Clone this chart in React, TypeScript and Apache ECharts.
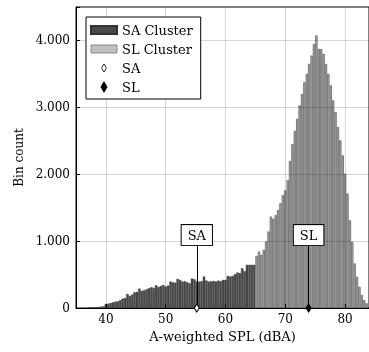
import React, { useEffect, useRef } from "react";
import * as echarts from "echarts";

// Histogram layout
const binStart = 37.0;
const binWidth = 0.4;

// SA cluster bin counts (bins from 37.0 dBA, width 0.4)
const saCounts = [
  5, 8, 10, 12, 15, 20, 25,
  60, 65, 75, 85, 95, 100, 115, 140, 150, 210,
  180, 200, 235, 240, 290, 255, 265, 280, 295, 310,
  300, 340, 315, 330, 345, 320, 335, 395, 385, 380,
  435, 420, 395, 400, 385, 370, 440, 430, 400, 395,
  400, 470, 410, 395, 400, 405, 395, 410, 400, 420,
  420, 480, 470, 480, 505, 530, 520, 595, 550, 645,
  645, 645, 645,
];

// SL cluster bin counts (bins continue right after the SA cluster)
const slCounts = [
  780, 845, 795, 870, 995, 1145, 1368, 1335, 1390, 1467, 1567, 1690, 1760, 1910,
  2200, 2450, 2650, 2830, 3030, 3200, 3377, 3500, 3650, 3775, 3950, 4075,
  3875, 3870, 3800, 3650, 3500, 3330, 3105, 2930, 2705, 2507, 2283, 2010,
  1712, 1313, 990, 667, 467, 318, 194, 119, 70,
];

// Representative points
const saPoint = 55.2;
const slPoint = 73.9;

const xTicks = [40, 50, 60, 70, 80];
const yTicks = [1000, 2000, 3000, 4000];

const FONT = "DejaVu Serif";
const diamondPath = "path://M3 0L6 5L3 10L0 5Z";

export default function App() {
  const ref = useRef<HTMLDivElement>(null);

  useEffect(() => {
    if (!ref.current) return;
    const chart = echarts.init(ref.current, undefined, { renderer: "svg" });

    const saData = saCounts.map((c, i) => [
      +(binStart + binWidth * (i + 0.5)).toFixed(2),
      c,
    ]);
    const slStart = binStart + binWidth * saCounts.length;
    const slData = slCounts.map((c, i) => [
      +(slStart + binWidth * (i + 0.5)).toFixed(2),
      c,
    ]);

    const annLabel = (txt: string) => ({
      show: true,
      position: "end",
      distance: 0,
      formatter: txt,
      backgroundColor: "#fff",
      borderColor: "#000",
      borderWidth: 1,
      padding: [4, 6, 3, 6],
      color: "#000",
      fontFamily: FONT,
      fontSize: 13,
    });

    const option: any = {
      animation: false,
      textStyle: { fontFamily: FONT },
      grid: {
        show: true,
        borderColor: "#000",
        borderWidth: 1,
        left: 76,
        top: 7,
        width: 294,
        height: 301,
      },
      legend: {
        orient: "vertical",
        left: 86,
        top: 17,
        z: 10,
        padding: [6, 8, 5, 4],
        borderColor: "#000",
        borderWidth: 1,
        borderRadius: 0,
        backgroundColor: "#fff",
        itemWidth: 26,
        itemHeight: 8,
        itemGap: 5,
        selectedMode: false,
        textStyle: { fontFamily: FONT, fontSize: 13, color: "#000", lineHeight: 14 },
        data: [
          { name: "SA Cluster", icon: "rect" },
          { name: "SL Cluster", icon: "rect", itemStyle: { color: "#c0c0c0", borderColor: "#8a8a8a", borderWidth: 1 } },
          { name: "SA", icon: diamondPath, itemStyle: { borderWidth: 0.8 } },
          { name: "SL", icon: diamondPath },
        ],
      },
      xAxis: {
        type: "value",
        min: 35,
        max: 84,
        z: 8,
        name: "A-weighted SPL (dBA)",
        nameLocation: "middle",
        nameGap: 20,
        nameTextStyle: { fontFamily: FONT, fontSize: 13, color: "#000" },
        axisLine: { show: true, lineStyle: { color: "#000", width: 1 } },
        axisTick: {
          show: true,
          inside: true,
          length: 4,
          customValues: xTicks,
          lineStyle: { color: "#000" },
        },
        axisLabel: {
          customValues: xTicks,
          margin: 5,
          color: "#000",
          fontFamily: FONT,
          fontSize: 12,
        },
        splitLine: { show: false },
      },
      yAxis: {
        type: "value",
        min: 0,
        max: 4500,
        interval: 1000,
        z: 8,
        name: "Bin count",
        nameLocation: "middle",
        nameGap: 47,
        nameRotate: 90,
        nameTextStyle: { fontFamily: FONT, fontSize: 12, color: "#000" },
        axisLine: { show: true, lineStyle: { color: "#000", width: 1 } },
        axisTick: { show: true, inside: true, length: 4, lineStyle: { color: "#000" } },
        axisLabel: {
          margin: 6,
          color: "#000",
          fontFamily: FONT,
          fontSize: 12,
          formatter: (v: number) => {
            if (v === 0) return "0";
            if (v % 1000 !== 0) return "";
            return v / 1000 + ".000";
          },
        },
        splitLine: { show: false },
      },
      series: [
        {
          name: "SA Cluster",
          type: "bar",
          data: saData,
          barWidth: 2.4,
          barGap: "-100%",
          itemStyle: { color: "#4a4a4a", borderColor: "#333", borderWidth: 0.4 },
        },
        {
          name: "SL Cluster",
          type: "bar",
          data: slData,
          barWidth: 2.4,
          barGap: "-100%",
          itemStyle: { color: "#ababab", borderColor: "#666", borderWidth: 0.8 },
          markLine: {
            silent: true,
            z: 3,
            symbol: ["none", "none"],
            label: { show: false },
            lineStyle: { color: "rgba(0,0,0,0.16)", width: 1, type: "solid" },
            emphasis: { disabled: true },
            data: [
              ...xTicks.map((v) => ({ xAxis: v })),
              ...yTicks.map((v) => ({ yAxis: v })),
            ],
          },
        },
        {
          name: "SA",
          type: "scatter",
          z: 9,
          symbol: "diamond",
          symbolSize: [5, 8],
          data: [[saPoint, 0]],
          itemStyle: { color: "#fff", borderColor: "#000", borderWidth: 1, opacity: 1 },
          markLine: {
            silent: true,
            z: 6,
            symbol: ["none", "none"],
            lineStyle: { color: "#000", width: 1, type: "solid" },
            label: annLabel("SA"),
            emphasis: { disabled: true },
            data: [[{ coord: [saPoint, 0] }, { coord: [saPoint, 940] }]],
          },
        },
        {
          name: "SL",
          type: "scatter",
          z: 9,
          symbol: "diamond",
          symbolSize: [5, 8],
          data: [[slPoint, 0]],
          itemStyle: { color: "#000", borderColor: "#000", borderWidth: 1, opacity: 1 },
          markLine: {
            silent: true,
            z: 6,
            symbol: ["none", "none"],
            lineStyle: { color: "#000", width: 1, type: "solid" },
            label: annLabel("SL"),
            emphasis: { disabled: true },
            data: [[{ coord: [slPoint, 0] }, { coord: [slPoint, 940] }]],
          },
        },
      ],
    };

    chart.setOption(option);
    return () => chart.dispose();
  }, []);

  return (
    <div
      ref={ref}
      style={{ position: "fixed", left: 0, top: 0, width: 369, height: 352 }}
    />
  );
}
